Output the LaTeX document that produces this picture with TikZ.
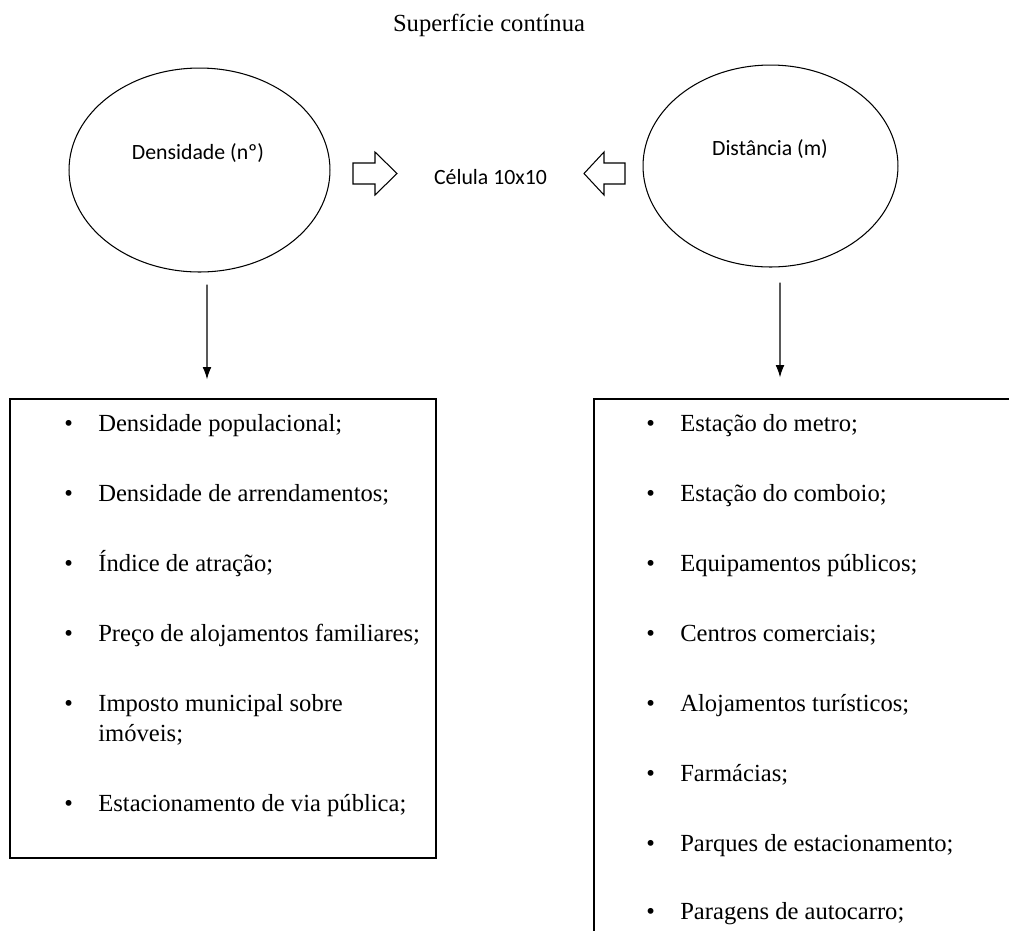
\documentclass[tikz,border=0pt]{standalone}
\usepackage{fontspec}
\setmainfont{Liberation Serif}
\newfontfamily\carlito{Carlito}
\usetikzlibrary{positioning}
\usetikzlibrary{calc}
\usetikzlibrary{shapes.geometric}
\usetikzlibrary{arrows.meta}

\tikzset{
  circulo/.style={draw, ellipse, line width=0.6pt, inner sep=0pt},
  rotulo/.style={font=\carlito\fontsize{12.4}{14}\selectfont},
  caixa/.style={draw, line width=0.8pt, inner sep=0pt},
  topico/.style={anchor=west, inner sep=0pt, text height=0.7em, text depth=0.22em, font=\fontsize{14}{17}\selectfont},
  seta/.style={-{Latex[length=7pt,width=5pt]}, line width=0.6pt},
  bloco/.style={draw, line width=0.6pt, line join=miter},
}
\newcommand{\marca}{\makebox[0.68cm][l]{\textbullet}}

\begin{document}
\begin{tikzpicture}[x=0.02cm, y=-0.02cm]
    \useasboundingbox (0,0) rectangle (1009,931);
    \clip (0,0) rectangle (1009,931);
    %Titulo
    \node[font=\fontsize{14}{17}\selectfont] (titulo) at (489,25) {Superfície contínua};
    %Densidade
    \node[circulo, minimum width=5.22cm, minimum height=4.08cm] (densE) at (199.5,170) {};
    \node[rotulo] (densT) at (198,153) {Densidade (nº)};
    %Distancia
    \node[circulo, minimum width=5.1cm, minimum height=4.04cm] (distE) at (770.5,166) {};
    \node[rotulo] (distT) at (770,149) {Distância (m)};
    %Celula
    \node[rotulo] (celula) at (490.5,177) {Célula 10x10};
    \draw[bloco] (353,163) -- (375,163) -- (375,152) -- (397,173.5) -- (375,195) -- (375,184) -- (353,184) -- cycle;
    \draw[bloco] (625,163) -- (604,163) -- (604,152) -- (584,173.5) -- (604,195) -- (604,184) -- (625,184) -- cycle;
    %Caixas
    \node[caixa, minimum width=8.52cm, minimum height=9.18cm] (densL) at (223,628.5) {};
    \node[caixa, minimum width=8.92cm, minimum height=11.22cm] (distL) at (817,679.5) {};
    %Setas
    \draw[seta] ([shift={(7.5,12)}]densE.south) -- ([shift={(-16,-19)}]densL.north);
    \draw[seta] ([shift={(9.5,15)}]distE.south) -- ([shift={(-37,-21)}]distL.north);

    %Lista densidade
    \node[topico] (d1) at (64,427) {\marca Densidade populacional;};
    \node[topico] (d2) at (64,497) {\marca Densidade de arrendamentos;};
    \node[topico] (d3) at (64,567) {\marca Índice de atração;};
    \node[topico] (d4) at (64,637) {\marca Preço de alojamentos familiares;};
    \node[topico] (d5) at (64,707) {\marca Imposto municipal sobre};
    \node[topico] (d5b) at (98,737) {imóveis;};
    \node[topico] (d6) at (64,807) {\marca Estacionamento de via pública;};
    %Lista distancia
    \node[topico] (t1) at (646,427) {\marca Estação do metro;};
    \node[topico] (t2) at (646,497) {\marca Estação do comboio;};
    \node[topico] (t3) at (646,567) {\marca Equipamentos públicos;};
    \node[topico] (t4) at (646,637) {\marca Centros comerciais;};
    \node[topico] (t5) at (646,707) {\marca Alojamentos turísticos;};
    \node[topico] (t6) at (646,777) {\marca Farmácias;};
    \node[topico] (t7) at (646,847) {\marca Parques de estacionamento;};
    \node[topico] (t8) at (646,915) {\marca Paragens de autocarro;};
\end{tikzpicture}
\end{document}
